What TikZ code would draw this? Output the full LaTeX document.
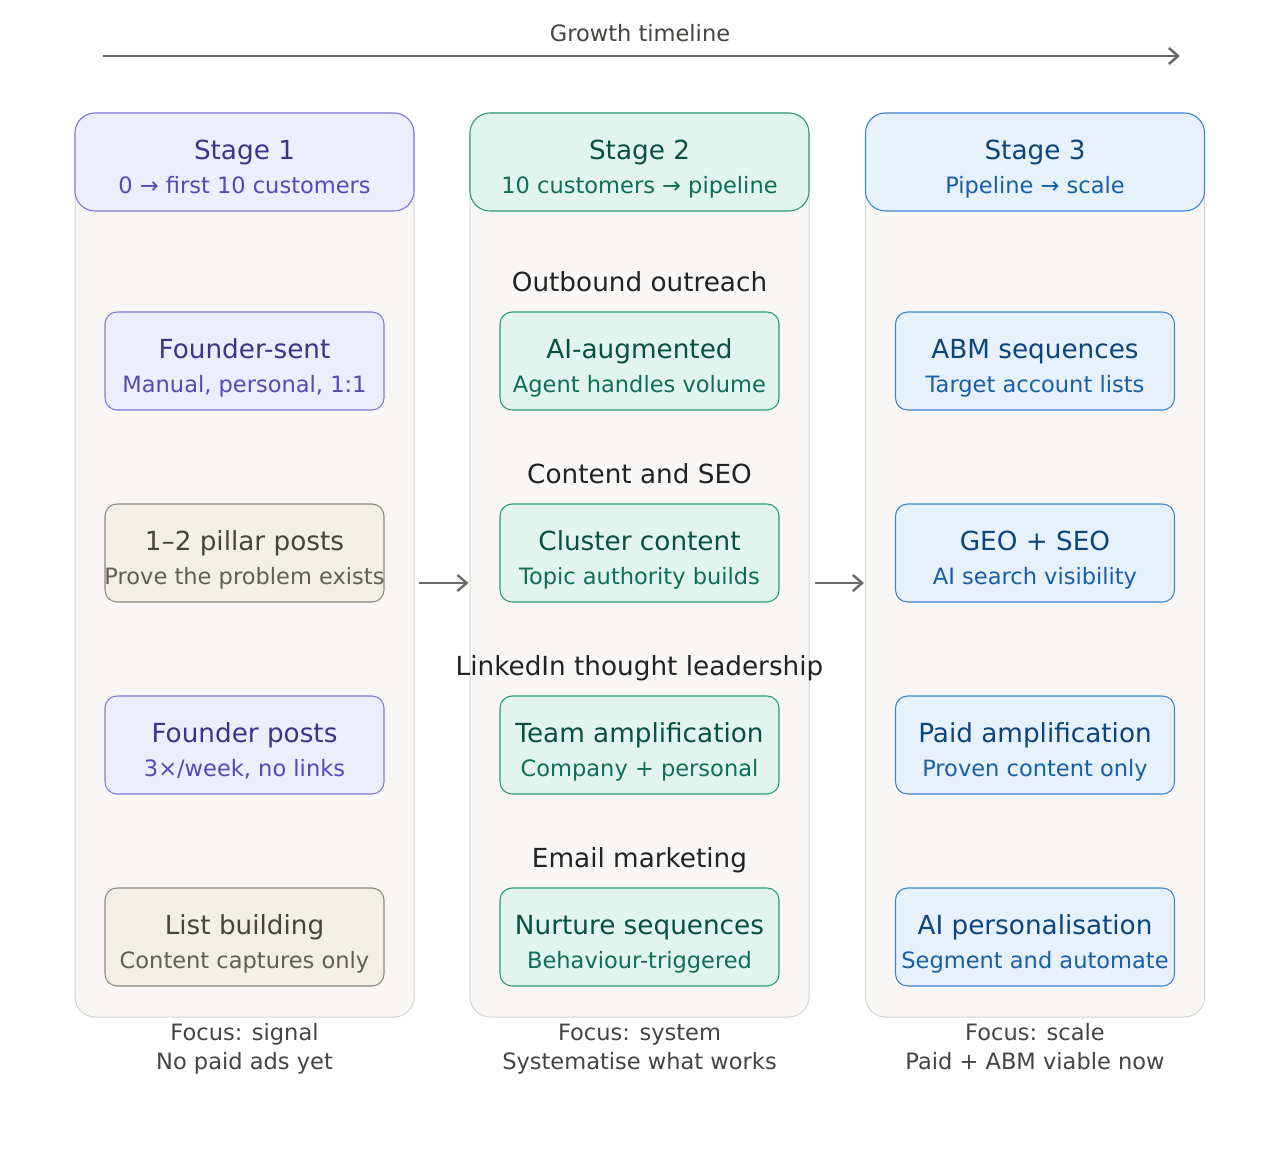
\documentclass[tikz,border=0pt]{standalone}
\usepackage{fontspec}
\setmainfont{DejaVu Sans}
\usetikzlibrary{arrows.meta,calc}
\definecolor{panelfill}{HTML}{F8F7F5}
\definecolor{panelline}{HTML}{D6D4CE}
\definecolor{pFill}{HTML}{EEEDFE}\definecolor{pLine}{HTML}{7F77DD}\definecolor{pTitle}{HTML}{3C3489}\definecolor{pSub}{HTML}{534AB7}
\definecolor{gFill}{HTML}{E1F5EE}\definecolor{gLine}{HTML}{2A9A72}\definecolor{gTitle}{HTML}{085041}\definecolor{gSub}{HTML}{0F6E56}
\definecolor{bFill}{HTML}{E6F1FB}\definecolor{bLine}{HTML}{3A84D6}\definecolor{bTitle}{HTML}{0C447C}\definecolor{bSub}{HTML}{185FA5}
\definecolor{nFill}{HTML}{F1EFE8}\definecolor{nLine}{HTML}{8A8880}\definecolor{nTitle}{HTML}{444441}\definecolor{nSub}{HTML}{5F5E5A}
\definecolor{arrowgray}{HTML}{6A6A66}
\definecolor{labelcol}{HTML}{222222}
\definecolor{footcol}{HTML}{444441}
\newcommand{\bigtxt}{\fontsize{19.7pt}{23pt}\selectfont}
\newcommand{\smalltxt}{\fontsize{16.9pt}{20pt}\selectfont}
\tikzset{
  panel/.style={draw=panelline, fill=panelfill, rounded corners=15pt, line width=0.75pt,
    minimum width=254.25pt, minimum height=678pt, inner sep=0pt},
  header/.style={rounded corners=15pt, line width=0.8pt, minimum width=254.25pt, minimum height=73.5pt, inner sep=0pt},
  card/.style={rounded corners=9pt, line width=0.8pt, minimum width=209.25pt, minimum height=73.5pt, inner sep=0pt},
  pur/.style={draw=pLine, fill=pFill},
  grn/.style={draw=gLine, fill=gFill},
  blu/.style={draw=bLine, fill=bFill},
  neu/.style={draw=nLine, fill=nFill},
  ttl/.style={anchor=base, inner sep=0pt, font=\bigtxt},
  sub/.style={anchor=base, inner sep=0pt, font=\smalltxt},
  seclabel/.style={anchor=base, inner sep=0pt, font=\bigtxt, text=labelcol},
  foot/.style={anchor=base, inner sep=0pt, font=\smalltxt, text=footcol},
  conn/.style={draw=arrowgray, line width=1.8pt, -{Straight Barb[length=7pt, width=12pt, line width=1.8pt]}},
}
% #1 name, #2 cx, #3 cy, #4 style, #5 kind (header/card), #6 title colour, #7 sub colour, #8 title, #9 sub
\newcommand{\mkbox}[9]{%
  \node[#5, #4] (#1) at (#2,#3) {};
  \node[ttl, text=#6] (#1t) at ($(#1)+(0,-2.5)$) {#8};
  \node[sub, text=#7] (#1s) at ($(#1)+(0,31)$) {#9};
}
\begin{document}
\begin{tikzpicture}[x=0.75pt, y=-0.75pt]
\useasboundingbox[fill=white] (0,0) rectangle (1280,1167);

% timeline
\coordinate (tl0) at (103,56);
\coordinate (tl1) at (1180,56);
\draw[conn] (tl0) -- (tl1);
\node[anchor=base, inner sep=0pt, font=\smalltxt, text=footcol] (tllabel) at (640,41.5) {Growth timeline};

% panels
\node[panel] (p1) at (244.5,565) {};
\node[panel] (p2) at (639.5,565) {};
\node[panel] (p3) at (1035,565) {};

% headers
\mkbox{h1}{244.5}{162}{pur}{header}{pTitle}{pSub}{Stage 1}{0 → first 10 customers}
\mkbox{h2}{639.5}{162}{grn}{header}{gTitle}{gSub}{Stage 2}{10 customers → pipeline}
\mkbox{h3}{1035}{162}{blu}{header}{bTitle}{bSub}{Stage 3}{Pipeline → scale}

% stage 1 cards
\mkbox{a1}{244.5}{361}{pur}{card}{pTitle}{pSub}{Founder-sent}{Manual, personal, 1:1}
\mkbox{a2}{244.5}{553}{neu}{card}{nTitle}{nSub}{1–2 pillar posts}{Prove the problem exists}
\mkbox{a3}{244.5}{745}{pur}{card}{pTitle}{pSub}{Founder posts}{3×/week, no links}
\mkbox{a4}{244.5}{937}{neu}{card}{nTitle}{nSub}{List building}{Content captures only}

% stage 2 cards
\mkbox{b1}{639.5}{361}{grn}{card}{gTitle}{gSub}{AI-augmented}{Agent handles volume}
\mkbox{b2}{639.5}{553}{grn}{card}{gTitle}{gSub}{Cluster content}{Topic authority builds}
\mkbox{b3}{639.5}{745}{grn}{card}{gTitle}{gSub}{Team amplification}{Company + personal}
\mkbox{b4}{639.5}{937}{grn}{card}{gTitle}{gSub}{Nurture sequences}{Behaviour-triggered}

% stage 3 cards
\mkbox{c1}{1035}{361}{blu}{card}{bTitle}{bSub}{ABM sequences}{Target account lists}
\mkbox{c2}{1035}{553}{blu}{card}{bTitle}{bSub}{GEO + SEO}{AI search visibility}
\mkbox{c3}{1035}{745}{blu}{card}{bTitle}{bSub}{Paid amplification}{Proven content only}
\mkbox{c4}{1035}{937}{blu}{card}{bTitle}{bSub}{AI personalisation}{Segment and automate}

% section labels
\node[seclabel] (l1) at (639.5,291.5) {Outbound outreach};
\node[seclabel] (l2) at (639.5,483.5) {Content and SEO};
\node[seclabel] (l3) at (639.5,675.5) {LinkedIn thought leadership};
\node[seclabel] (l4) at (639.5,867.5) {Email marketing};

% stage arrows
\draw[conn] ($(p1.east)+(4,18)$) -- ($(p2.west)+(-1,18)$);
\draw[conn] ($(p2.east)+(5,18)$) -- ($(p3.west)+(-1,18)$);

% footers
\node[foot] (f1a) at (244.5,1040) {Focus: signal};
\node[foot] (f1b) at (244.5,1069.5) {No paid ads yet};
\node[foot] (f2a) at (639.5,1040) {Focus: system};
\node[foot] (f2b) at (639.5,1069.5) {Systematise what works};
\node[foot] (f3a) at (1035,1040) {Focus: scale};
\node[foot] (f3b) at (1035,1069.5) {Paid + ABM viable now};
\end{tikzpicture}
\end{document}
